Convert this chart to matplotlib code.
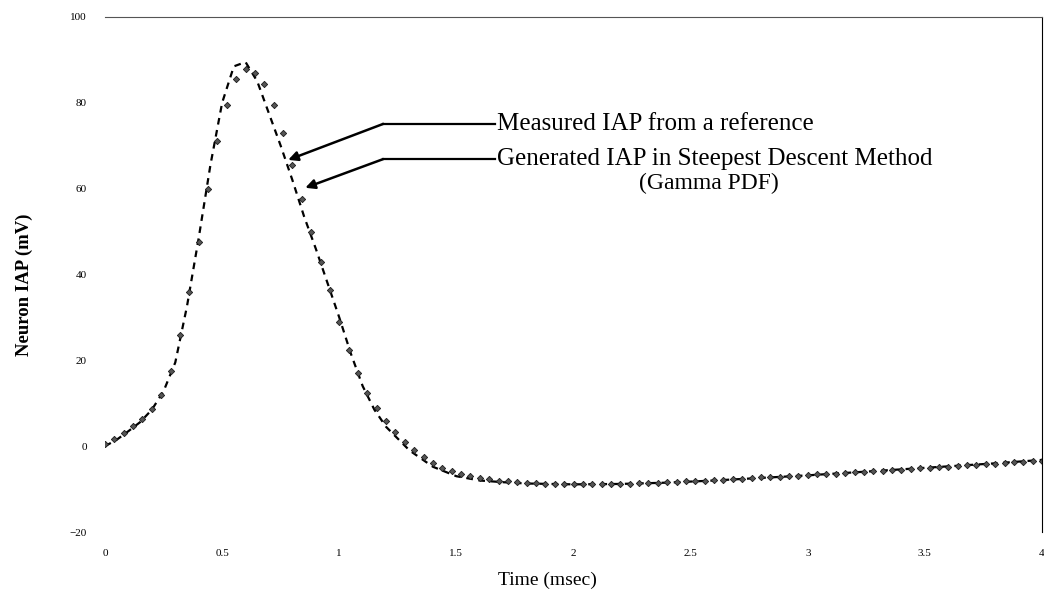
import matplotlib
matplotlib.use('Agg')
import matplotlib.pyplot as plt

plt.rcParams['font.family'] = ['Liberation Serif', 'DejaVu Serif']

# measured IAP (dashed line)
meas_t = [0, 0.05, 0.1, 0.15, 0.2, 0.25, 0.3, 0.35, 0.4, 0.45, 0.5, 0.55, 0.6,
          0.65, 0.7, 0.75, 0.8, 0.85, 0.9, 0.95, 1.0, 1.05, 1.1, 1.15, 1.2, 1.3,
          1.4, 1.5, 1.6, 1.7, 1.8, 1.9, 2.0, 2.2, 2.4, 2.6, 2.8, 3.0, 3.2, 3.4,
          3.6, 3.8, 4.0]
meas_v = [0, 1.5, 3.5, 5.6, 8.5, 12.8, 19.5, 32.6, 48.5, 65.5, 80, 88.5, 89.5,
          85, 77.5, 70, 62, 53.5, 46, 38, 30, 21.5, 14, 8.5, 4.5, -1,
          -4.8, -7, -8, -8.4, -8.7, -8.8, -8.9, -8.8, -8.5, -8, -7.4, -6.8, -6.1, -5.4,
          -4.7, -4.0, -3.2]

# generated IAP, steepest descent / gamma pdf (markers)
gen_t = [0.00, 0.04, 0.08, 0.12, 0.16, 0.20, 0.24, 0.28, 0.32, 0.36, 0.40, 0.44,
         0.48, 0.52, 0.56, 0.60, 0.64, 0.68, 0.72, 0.76, 0.80, 0.84, 0.88, 0.92,
         0.96, 1.00, 1.04, 1.08, 1.12, 1.16, 1.20, 1.24, 1.28, 1.32, 1.36, 1.40,
         1.44, 1.48, 1.52, 1.56, 1.60, 1.64, 1.68, 1.72, 1.76, 1.80, 1.84, 1.88,
         1.92, 1.96, 2.00, 2.04, 2.08, 2.12, 2.16, 2.20, 2.24, 2.28, 2.32, 2.36,
         2.40, 2.44, 2.48, 2.52, 2.56, 2.60, 2.64, 2.68, 2.72, 2.76, 2.80, 2.84,
         2.88, 2.92, 2.96, 3.00, 3.04, 3.08, 3.12, 3.16, 3.20, 3.24, 3.28, 3.32,
         3.36, 3.40, 3.44, 3.48, 3.52, 3.56, 3.60, 3.64, 3.68, 3.72, 3.76, 3.80,
         3.84, 3.88, 3.92, 3.96, 4.00]
gen_v = [0.5, 1.6, 3.0, 4.7, 6.4, 8.6, 12.0, 17.5, 26.0, 36.0, 47.5, 60.0,
         71.0, 79.5, 85.5, 88.0, 87.0, 84.5, 79.5, 73.0, 65.5, 57.5, 50.0, 43.0,
         36.5, 29.0, 22.5, 17.0, 12.5, 8.8, 5.8, 3.2, 1.0, -0.8, -2.5, -3.9,
         -5.0, -5.8, -6.5, -7.0, -7.4, -7.7, -8.0, -8.2, -8.4, -8.5, -8.6, -8.7,
         -8.8, -8.8, -8.9, -8.9, -8.9, -8.9, -8.8, -8.8, -8.7, -8.6, -8.6, -8.5,
         -8.4, -8.3, -8.2, -8.1, -8.0, -7.9, -7.8, -7.7, -7.6, -7.5, -7.3, -7.2,
         -7.1, -7.0, -6.9, -6.8, -6.6, -6.5, -6.4, -6.3, -6.1, -6.0, -5.9, -5.7,
         -5.6, -5.5, -5.3, -5.2, -5.0, -4.9, -4.8, -4.6, -4.5, -4.4, -4.2, -4.1,
         -4.0, -3.8, -3.7, -3.5, -3.4]

x_ticks = [0, 0.5, 1, 1.5, 2, 2.5, 3, 3.5, 4]
x_labels = ['0', '0.5', '1', '1.5', '2', '2.5', '3', '3.5', '4']
y_ticks = [-20, 0, 20, 40, 60, 80, 100]

fig = plt.figure(figsize=(10.44, 5.95), dpi=100)
ax = fig.add_axes([105/1044, 1 - 532/595, (1042 - 105)/1044, (532 - 17)/595])

ax.plot(meas_t, meas_v, color='black', lw=1.6, dashes=(3, 2.5))
ax.plot(gen_t, gen_v, ls='none', marker='D', ms=3.2, color='black',
        mfc='#555555', mec='#1a1a1a', mew=0.6)

ax.set_xlim(0, 4)
ax.set_ylim(-20, 100)
ax.set_xticks(x_ticks)
ax.set_xticklabels(x_labels)
ax.set_yticks(y_ticks)
ax.tick_params(length=0, labelsize=8)
ax.tick_params(axis='x', pad=12)
ax.tick_params(axis='y', pad=13)

for s in ['left', 'bottom']:
    ax.spines[s].set_visible(False)
ax.spines['top'].set_color('#555555')
ax.spines['right'].set_color('black')

ax.set_xlabel('Time (msec)', fontsize=14)
ax.xaxis.set_label_coords(0.472, -0.077)
ax.set_ylabel('Neuron IAP (mV)', fontsize=13.5, fontweight='bold')
ax.yaxis.set_label_coords(-0.077, 0.48)

# annotation arrows: horizontal leader + diagonal arrow
elbow_x = 1.188
text_x = 1.675
ann = [('Measured IAP from a reference', 75.1, (0.782, 66.7)),
       ('Generated IAP in Steepest Descent Method', 66.9, (0.855, 60.2))]
for txt, yy, tip in ann:
    ax.plot([elbow_x, text_x - 0.01], [yy, yy], color='black', lw=1.6)
    ax.annotate('', xy=tip, xytext=(elbow_x, yy),
                arrowprops=dict(arrowstyle='-|>', color='black', lw=1.8,
                                mutation_scale=14, shrinkA=0, shrinkB=0))
    ax.text(text_x, yy, txt, fontsize=18, va='center', ha='left')
ax.text(2.577, 61.2, '(Gamma PDF)', fontsize=17, va='center', ha='center')

fig.savefig('out.png', dpi=100)
